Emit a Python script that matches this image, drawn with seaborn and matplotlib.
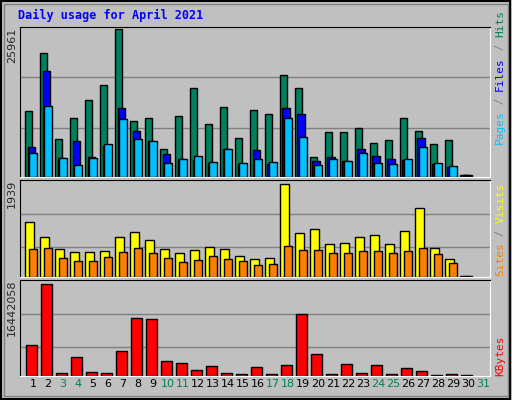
import matplotlib
matplotlib.use('Agg')
import matplotlib.pyplot as plt
import seaborn as sns
import numpy as np

days = list(range(1, 31))
hits = [11682, 21712, 6726, 10384, 13452, 16225, 25961, 9912, 10384, 4956,
        10738, 15694, 9322, 12331, 6844, 11800, 11092, 17995, 15694, 3540,
        7906, 7906, 8614, 5959, 6490, 10384, 8083, 5782, 6490, 0]
files = [5251, 18703, 3363, 6313, 3481, 5428, 12154, 8083, 6313, 4012,
         3127, 2950, 2419, 4897, 2242, 4720, 2242, 12154, 11092, 2773,
         3481, 2773, 4897, 3658, 3127, 2950, 6844, 2242, 1711, 0]
pages = [4189, 12508, 3304, 2065, 3304, 5782, 10207, 6667, 6313, 2419,
         3127, 3658, 2596, 4897, 2419, 3127, 2596, 10384, 7021, 2065,
         3127, 2773, 4189, 2419, 2242, 3127, 5251, 2419, 1888, 0]
visits = [1160, 844, 590, 527, 527, 548, 844, 949, 780, 590, 506, 569, 633, 590, 443,
          380, 401, 1939, 928, 1012, 696, 717, 844, 886, 696, 970, 1434, 612, 380, 0]
sites = [590, 612, 401, 337, 337, 422, 527, 612, 506, 401, 316, 359, 443, 380, 337,
         253, 274, 654, 569, 569, 506, 506, 548, 548, 506, 548, 612, 485, 295, 0]
kbytes = [5601000, 16442058, 542000, 3433000, 723000, 542000, 4517000, 10479000,
          10299000, 2710000, 2349000, 1084000, 1807000, 542000, 361000, 1626000,
          361000, 1987000, 11202000, 3975000, 361000, 2168000, 542000, 1987000,
          361000, 1445000, 903000, 181000, 361000, 181000]
weekend = [3, 4, 10, 11, 17, 18, 24, 25, 31]

sns.set_style('white')
plt.rcParams['font.family'] = 'DejaVu Sans Mono'
grey = '#C0C0C0'
fig = plt.figure(figsize=(5.12, 4), dpi=100, facecolor=grey)
x = np.array(days)
mono = 'DejaVu Sans Mono'


def panel(rect, ymax, grids):
    ax = fig.add_axes(rect, facecolor=grey)
    ax.set_xlim(0.13, 31.47)
    ax.set_ylim(0, ymax)
    for g in grids:
        ax.axhline(g, color='#808080', lw=1, zorder=0)
    ax.set_xticks([])
    ax.set_yticks([])
    for s in ax.spines.values():
        s.set_color('black')
    ax.spines['bottom'].set_color('white')
    ax.spines['right'].set_color('white')
    return ax


def bars(ax, off, vals, w, color):
    v = np.array(vals)
    v = np.where(v == 0, ax.get_ylim()[1] * 0.012, v)
    cols = [color if val > 0 else 'black' for val in vals]
    ax.bar(x + off, v, width=w, color=cols, edgecolor='black', linewidth=1)


ax1 = panel([0.039, 0.5575, 0.918, 0.375], 26370, [8618, 17573])
bars(ax1, -0.27, hits, 0.47, '#00805C')
bars(ax1, -0.13, files, 0.47, '#0000FF')
bars(ax1, 0.0, pages, 0.5, '#00C0FF')

ax2 = panel([0.039, 0.3075, 0.918, 0.2425], 2030, [632, 1328])
bars(ax2, -0.23, visits, 0.56, '#FFFF00')
bars(ax2, 0.0, sites, 0.5, '#FF8000')

ax3 = panel([0.039, 0.06, 0.918, 0.24], 17220000, [5240000, 11200000])
bars(ax3, -0.1, kbytes, 0.7, '#FF0000')

# day labels
for d in range(1, 32):
    ax3.text(d, -0.03, str(d), transform=ax3.get_xaxis_transform(), ha='center', va='top',
             fontsize=8, family='DejaVu Sans', color='#00805C' if d in weekend else 'black')

# max labels on the left
fig.text(0.024, 0.93, '25961', rotation=90, ha='center', va='top', fontsize=8, family='DejaVu Sans')
fig.text(0.024, 0.55, '1939', rotation=90, ha='center', va='top', fontsize=8, family='DejaVu Sans')
fig.text(0.024, 0.30, '16442058', rotation=90, ha='center', va='top', fontsize=8, family='DejaVu Sans')

# right legends
def rlabel(y0, parts):
    y = y0
    for txt, col in parts:
        t = fig.text(0.977, y, txt, rotation=90, ha='center', va='bottom', fontsize=8,
                     family=mono, color=col)
        y += len(txt) * 0.0167
rlabel(0.64, [('Pages', '#00C0FF'), (' / ', '#808080'), ('Files', '#0000FF'),
              (' / ', '#808080'), ('Hits', '#00805C')])
rlabel(0.31, [('Sites', '#FF8000'), (' / ', '#808080'), ('Visits', '#FFFF00')])
rlabel(0.06, [('KBytes', '#FF0000')])

fig.text(0.035, 0.962, 'Daily usage for April 2021', fontsize=8.5, fontweight='bold',
         color='#0000FF', family=mono, va='center')

# outer frame
fig.patches.append(plt.Rectangle((0.002, 0.003), 0.995, 0.994, transform=fig.transFigure,
                                 fill=False, edgecolor='black', lw=1.5))
fig.patches.append(plt.Rectangle((0.007, 0.01), 0.985, 0.98, transform=fig.transFigure,
                                 fill=False, edgecolor='#808080', lw=1))

fig.savefig('out.png', dpi=100, facecolor=grey)
